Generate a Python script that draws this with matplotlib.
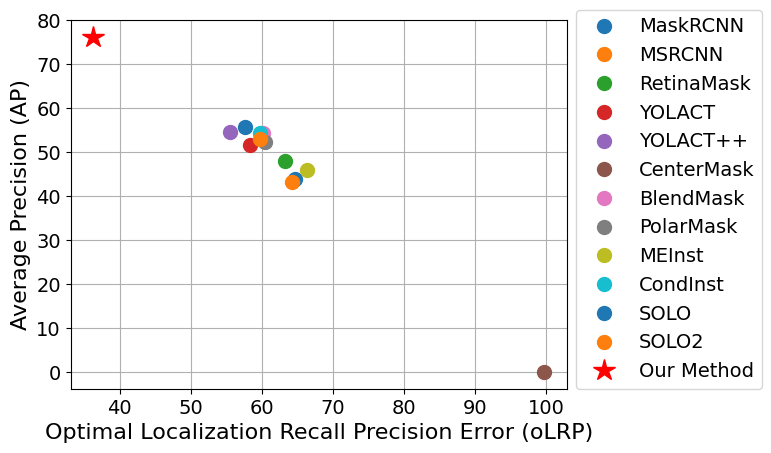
import matplotlib
matplotlib.use('Agg')
import matplotlib.pyplot as plt

# method names (legend order) and their (oLRP, AP) values
methods = ['MaskRCNN', 'MSRCNN', 'RetinaMask', 'YOLACT', 'YOLACT++', 'CenterMask',
           'BlendMask', 'PolarMask', 'MEInst', 'CondInst', 'SOLO', 'SOLO2']
olrp = [64.6, 64.2, 63.3, 58.4, 55.5, 99.7, 60.2, 60.4, 66.3, 59.8, 57.6, 59.7]
ap = [43.9, 43.2, 48.1, 51.7, 54.6, 0.0, 54.5, 52.4, 46.0, 54.4, 55.7, 53.0]

ours_name = 'Our Method'
ours_olrp = 36.3
ours_ap = 76.3

fig = plt.figure(figsize=(7.71, 4.53), dpi=100)
ax = fig.add_axes([0.0917, 0.1413, 0.6434, 0.8146])

for name, x, y in zip(methods, olrp, ap):
    ax.plot(x, y, 'o', markersize=10, label=name)
ax.plot(ours_olrp, ours_ap, '*', color='red', markersize=16, label=ours_name)

ax.set_xlabel('Optimal Localization Recall Precision Error (oLRP)', fontsize=16)
ax.set_ylabel('Average Precision (AP)', fontsize=16)
ax.tick_params(labelsize=14)
ax.grid(True)
ax.legend(loc='lower left', bbox_to_anchor=(1.0, -0.026), fontsize=14)

fig.savefig('out.png', dpi=100)
